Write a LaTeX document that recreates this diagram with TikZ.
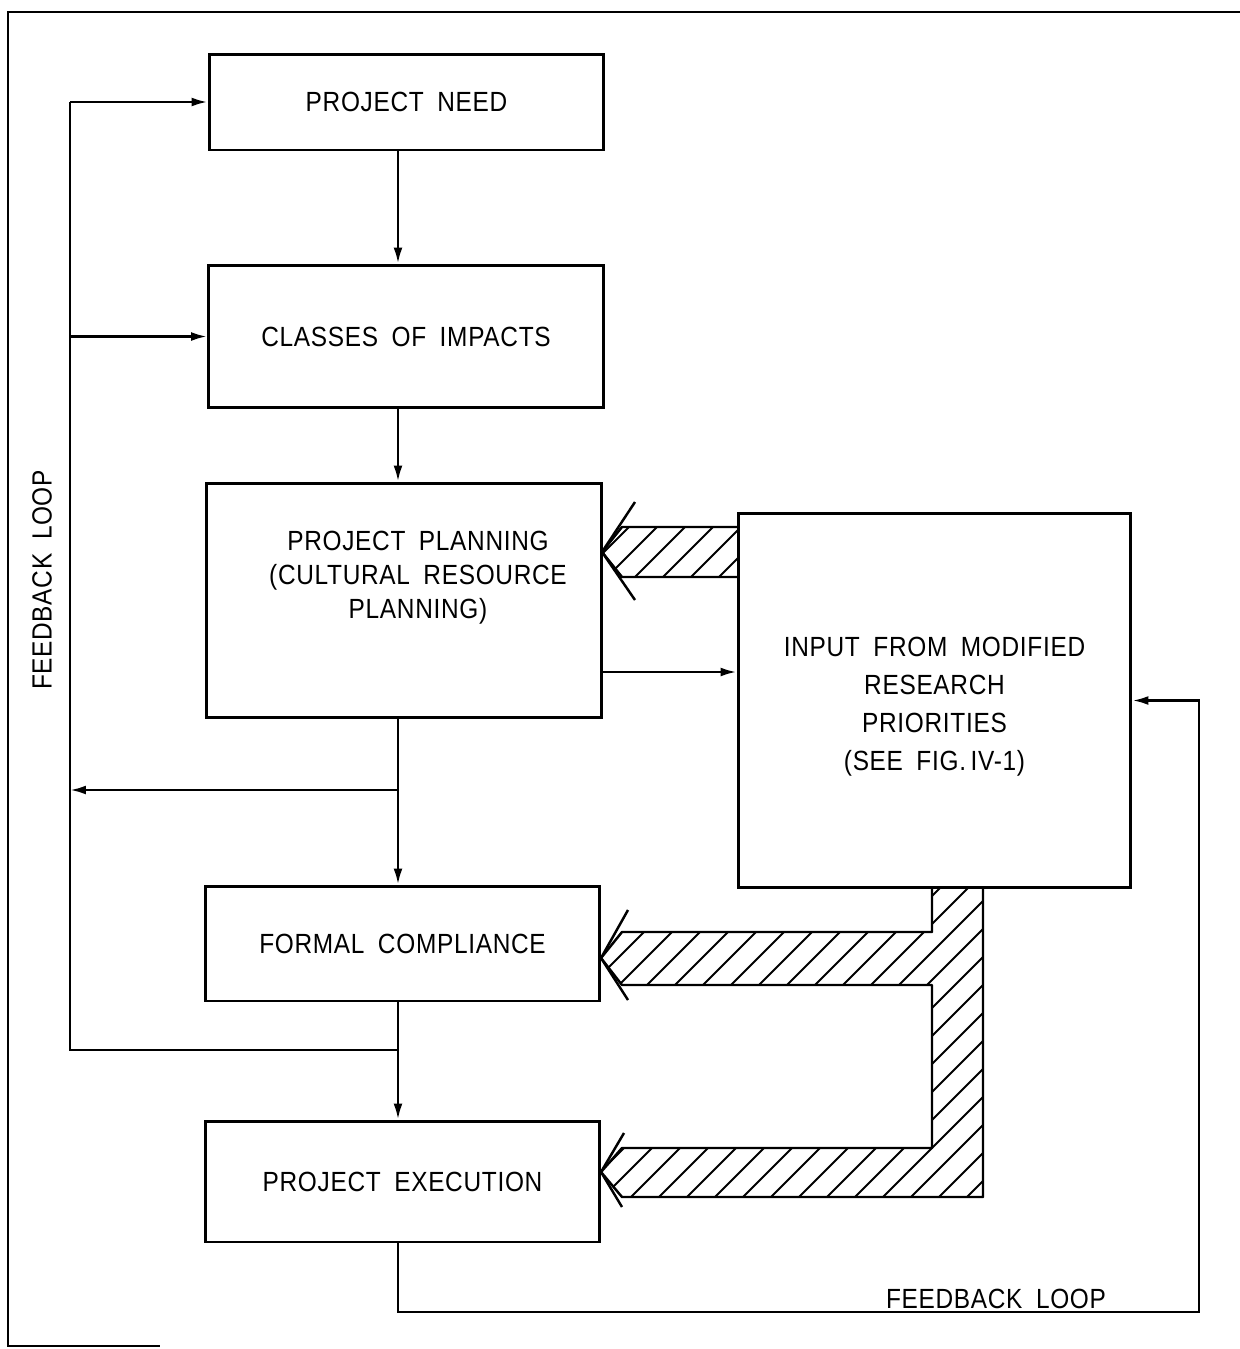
\documentclass[tikz,border=0pt]{standalone}
\usepackage{fontspec}
\setmainfont{Liberation Sans}[FakeStretch=0.88, LetterSpace=2.5, WordSpace=1.8]
\usepackage{tikz}
\usetikzlibrary{positioning,arrows.meta,calc}

\begin{document}
\begin{tikzpicture}[
   x=0.02cm, y=-0.02cm,
   block/.style={draw, line width=1.7pt, minimum width=7.9cm, align=center,
                 font=\fontsize{15.8}{20}\selectfont, inner sep=0pt},
   txt/.style={align=center, font=\fontsize{15.8}{19.3}\selectfont},
   link/.style={line width=1.4pt},
   arr/.style={link, -{Latex[length=9pt,width=5pt]}},
   wide/.style={line width=1.4pt, line join=round},
   hatch/.style={line width=1.1pt}]
  \useasboundingbox (0,0) rectangle (1240,1349);
  % frame
  \draw[line width=1.1pt] (1240,12) -- (8,12) -- (8,1346) -- (160,1346);

  % main column
  \node[block, minimum height=1.92cm] (need) at (406.5,102) {PROJECT NEED};
  \node[block, minimum height=2.86cm] (classes) at (406,336.5) {CLASSES OF IMPACTS};
  \node[block, minimum height=4.7cm] (plan) at (404,600.5) {};
  \node[txt] (plantext) at (418,578) {PROJECT PLANNING\\(CULTURAL RESOURCE\\PLANNING)};
  \node[block, minimum height=2.3cm] (comply) at (402.5,943.5) {FORMAL COMPLIANCE};
  \node[block, minimum height=2.42cm] (exec) at (402.5,1181.5) {PROJECT EXECUTION};
  \node[block, minimum width=7.86cm, minimum height=7.5cm,
        font=\fontsize{15.8}{21.5}\selectfont] (input) at (934.5,700.5)
        {\\[-0.4ex]INPUT FROM MODIFIED\\RESEARCH\\PRIORITIES\\(SEE FIG.\,IV-1)};

  \coordinate (spine) at (398,0);
  \coordinate (fbl) at (70,0);
  \coordinate (j1) at (398,790);
  \coordinate (j2) at (398,1050);
  \coordinate (pi) at (0,672);
  \coordinate (fbb) at (1199,1312);

  \draw[arr] (need.south -| spine) -- (classes.north -| spine);
  \draw[arr] (classes.south -| spine) -- (plan.north -| spine);
  \draw[arr] (plan.south -| spine) -- (comply.north -| spine);
  \draw[arr] (comply.south -| spine) -- (exec.north -| spine);
  \draw[arr] (plan.east |- pi) -- (input.west |- pi);

  % left feedback loop
  \draw[arr] (j1) -- (j1 -| fbl);
  \draw[link] (j2) -- (j2 -| fbl) -- (fbl |- need.west);
  \draw[arr] (fbl |- need.west) -- (need.west);
  \draw[arr] (fbl |- classes.west) -- (classes.west);
  \node[txt, rotate=90] (fbleft) at (42,580) {FEEDBACK LOOP};

  % bottom feedback loop
  \draw[arr] (exec.south -| spine) |- (fbb) |- (input.east);
  \node[txt] (fbright) at (996,1299) {FEEDBACK LOOP};

  % hatched arrows
  \begin{scope}
    \clip (738,527) -- (622,527) -- (602,552) -- (622,577) -- (738,577) -- cycle;
    \foreach \a in {-150,-122,...,950}
      \draw[hatch] (\a,1250) -- ++(800,-800);
  \end{scope}
  \draw[wide] (738,527) -- (622,527) -- (602,552) -- (622,577) -- (738,577);
  \draw[wide] (635,502) -- (602,552) -- (635,600);

  \begin{scope}
    \clip (932,888) -- (932,932) -- (622,932) -- (601,958) -- (622,985)
      -- (932,985) -- (932,1148) -- (622,1148) -- (601,1172) -- (622,1197)
      -- (983,1197) -- (983,888) -- cycle;
    \foreach \a in {-150,-122,...,950}
      \draw[hatch] (\a,1250) -- ++(800,-800);
  \end{scope}
  \draw[wide] (932,888) -- (932,932) -- (622,932) -- (601,958) -- (622,985)
      -- (932,985) -- (932,1148) -- (622,1148) -- (601,1172) -- (622,1197)
      -- (983,1197) -- (983,888);
  \draw[wide] (628,910) -- (601,958) -- (628,1000);
  \draw[wide] (624,1133) -- (601,1172) -- (622,1207);
\end{tikzpicture}
\end{document}
